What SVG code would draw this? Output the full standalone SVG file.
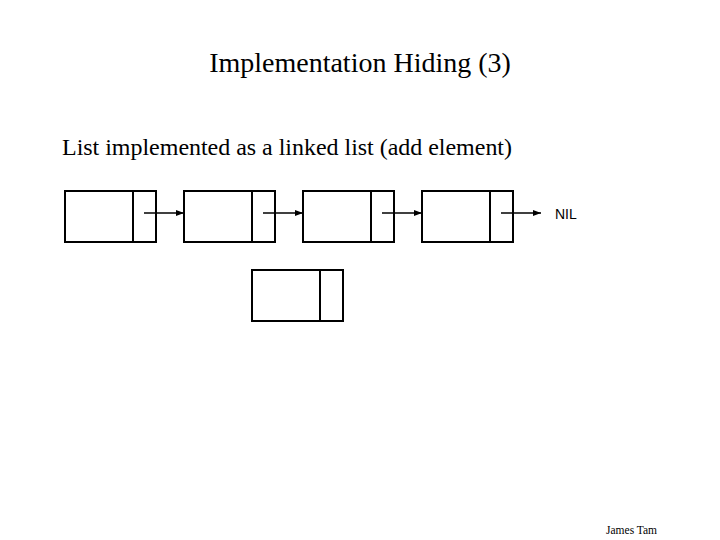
<svg xmlns="http://www.w3.org/2000/svg" width="720" height="540" viewBox="0 0 720 540">
<style>
.b{fill:none;stroke:#000;stroke-width:2}
.c{stroke:#000;stroke-width:1.5;fill:none}
.t{font-family:"Liberation Serif",serif;fill:#000}
</style>
<defs><marker id="a" markerWidth="8" markerHeight="6" refX="8" refY="3" orient="auto" markerUnits="userSpaceOnUse"><path d="M0,0L8,3L0,6z"/></marker></defs>
<rect width="720" height="540" fill="#fff"/>
<text class="t" x="360" y="72" font-size="28" text-anchor="middle">Implementation Hiding (3)</text>
<text class="t" x="62" y="155" font-size="24" textLength="450">List implemented as a linked list (add element)</text>
<g id="n1"><rect class="b" x="65" y="191" width="91" height="51"/><line class="b" x1="133" y1="191" x2="133" y2="242"/></g>
<g id="n2"><rect class="b" x="184" y="191" width="91" height="51"/><line class="b" x1="252" y1="191" x2="252" y2="242"/></g>
<g id="n3"><rect class="b" x="303" y="191" width="91" height="51"/><line class="b" x1="371" y1="191" x2="371" y2="242"/></g>
<g id="n4"><rect class="b" x="422" y="191" width="91" height="51"/><line class="b" x1="490" y1="191" x2="490" y2="242"/></g>
<g id="n5"><rect class="b" x="252" y="270" width="91" height="51"/><line class="b" x1="320" y1="270" x2="320" y2="321"/></g>
<g id="connectors">
<line class="c" x1="144" y1="213" x2="184" y2="213" marker-end="url(#a)"/>
<line class="c" x1="263" y1="213" x2="303" y2="213" marker-end="url(#a)"/>
<line class="c" x1="382" y1="213" x2="422" y2="213" marker-end="url(#a)"/>
<line class="c" x1="501" y1="213" x2="541" y2="213" marker-end="url(#a)"/>
</g>
<text x="555" y="219" font-family="Liberation Sans,sans-serif" font-size="14">NIL</text>
<text class="t" x="606" y="534" font-size="11.5">James Tam</text>
</svg>
